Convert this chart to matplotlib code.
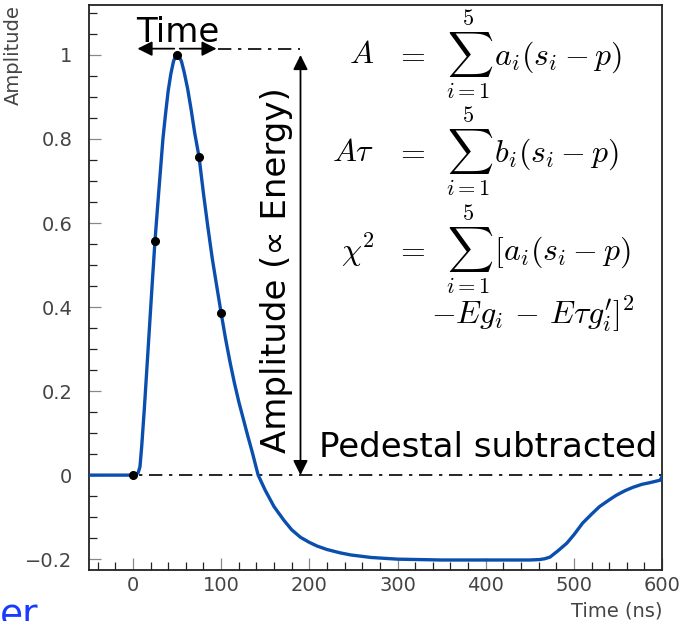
import numpy as np
import matplotlib
matplotlib.use('Agg')
import matplotlib.pyplot as plt
from matplotlib.ticker import MultipleLocator, FixedLocator, FixedFormatter

# pulse shape (time in ns, normalised amplitude)
pulse_t = [-50, 0, 4, 6, 8, 10, 13, 16, 19, 22, 25, 28, 31, 34, 37, 40, 43, 46, 49, 50,
           52, 55, 58, 62, 66, 70, 75, 80, 85, 90, 95, 100, 105, 110, 115, 120, 125,
           130, 135, 142, 150, 160, 171, 180, 190, 200, 209, 220, 235, 247, 270, 300,
           350, 400, 450, 461, 467, 473, 482, 492, 500, 510, 520, 529, 540, 548, 558,
           567, 577, 586, 598, 600]
pulse_a = [0.0, 0.0, 0.002, 0.006, 0.02, 0.07, 0.16, 0.26, 0.36, 0.46, 0.557, 0.64,
           0.72, 0.80, 0.86, 0.915, 0.955, 0.985, 1.0, 1.0,
           0.998, 0.985, 0.96, 0.92, 0.87, 0.815, 0.757, 0.67, 0.59, 0.515, 0.45, 0.386,
           0.325, 0.27, 0.22, 0.175, 0.135, 0.095, 0.057, 0.0, -0.036, -0.075, -0.107,
           -0.13, -0.148, -0.16, -0.169, -0.177, -0.185, -0.19, -0.196, -0.2,
           -0.202, -0.202, -0.202, -0.201, -0.199, -0.195, -0.18, -0.162, -0.142, -0.114,
           -0.093, -0.075, -0.059, -0.048, -0.037, -0.029, -0.022, -0.018, -0.012, -0.003]

# the five digitised samples
sample_t = [0, 25, 50, 75, 100]
sample_a = [0.0, 0.557, 1.0, 0.757, 0.386]

ytick_vals = [-0.2, 0, 0.2, 0.4, 0.6, 0.8, 1]
ytick_labels = ['\u22120.2', '0', '0.2', '0.4', '0.6', '0.8', '1']
xtick_vals = [0, 100, 200, 300, 400, 500, 600]
xtick_labels = ['0', '100', '200', '300', '400', '500', '600']

peak = 1.015
t_marker = 190

plt.rcParams['mathtext.fontset'] = 'cm'
plt.rcParams['font.family'] = 'DejaVu Sans'

fig = plt.figure(figsize=(6.94, 6.21), dpi=100)
ax = fig.add_axes([0.128, 0.082, 0.826, 0.910])

ax.plot(pulse_t, pulse_a, color='#0a4fae', lw=2.4, zorder=3)
ax.plot(sample_t, sample_a, 'o', color='black', ms=5.5, zorder=4)

# pedestal and peak reference lines
ax.plot([-50, 600], [0, 0], color='black', lw=1.2, ls=(0, (8, 4, 2, 4)), zorder=2)
ax.plot([97, t_marker], [peak, peak], color='black', lw=1.2, ls=(0, (8, 4, 2, 4)), zorder=2)

# time arrow (double headed) and amplitude arrow
ax.annotate('', xy=(2, peak), xytext=(50, peak),
            arrowprops=dict(arrowstyle='-|>', color='black', lw=1.3, mutation_scale=22))
ax.annotate('', xy=(98, peak), xytext=(50, peak),
            arrowprops=dict(arrowstyle='-|>', color='black', lw=1.3, mutation_scale=22))
ax.annotate('', xy=(t_marker, 1.0), xytext=(t_marker, 0.0),
            arrowprops=dict(arrowstyle='<|-|>', color='black', lw=1.3, mutation_scale=22,
                            shrinkA=0, shrinkB=0))

ax.text(51, 1.031, 'Time', ha='center', va='baseline', fontsize=24.5)
ax.text(210.5, 0.042, 'Pedestal subtracted', ha='left', va='baseline', fontsize=24.5)
ax.text(163, 0.488, 'Amplitude (\u221d Energy)', rotation=90, ha='center', va='center',
        fontsize=24.5)

# reconstruction formulas
eq_fs = 23
lhs_x, eq_x, rhs_x = 274, 315, 354.5
rows_y = [1.0, 0.769, 0.536]
ax.text(lhs_x, rows_y[0], r'$A$', ha='right', va='center', fontsize=eq_fs)
ax.text(lhs_x, rows_y[1], r'$A\tau$', ha='right', va='center', fontsize=eq_fs)
ax.text(lhs_x, rows_y[2], r'$\chi^2$', ha='right', va='center', fontsize=eq_fs)
for y in rows_y:
    ax.text(eq_x, y, r'$=$', ha='center', va='center', fontsize=eq_fs)
ax.text(rhs_x, rows_y[0], r'$\sum_{i=1}^{5}\,a_i(s_i-p)$', ha='left', va='center', fontsize=eq_fs)
ax.text(rhs_x, rows_y[1], r'$\sum_{i=1}^{5}\,b_i(s_i-p)$', ha='left', va='center', fontsize=eq_fs)
ax.text(rhs_x, rows_y[2], r'$\sum_{i=1}^{5}\,[a_i(s_i-p)$', ha='left', va='center', fontsize=eq_fs)
ax.text(337.5, 0.383, r"$-Eg_i\,-\,E\tau g^{\prime}_i]^2$", ha='left', va='center',
        fontsize=eq_fs)

ax.set_xlim(-50, 600)
ax.set_ylim(-0.226, 1.119)
ax.xaxis.set_major_locator(FixedLocator(xtick_vals))
ax.xaxis.set_major_formatter(FixedFormatter(xtick_labels))
ax.xaxis.set_minor_locator(MultipleLocator(20))
ax.yaxis.set_major_locator(FixedLocator(ytick_vals))
ax.yaxis.set_major_formatter(FixedFormatter(ytick_labels))
ax.yaxis.set_minor_locator(MultipleLocator(0.05))
ax.tick_params(which='both', direction='in', top=False, right=False,
               labelsize=14, width=0.9, labelcolor='#444444')
ax.tick_params(which='major', length=8.5, color='#888888')
ax.tick_params(which='minor', length=5.5, color='#222222')
ax.tick_params(axis='y', which='major', pad=12)
ax.tick_params(axis='x', which='major', pad=4)
for s in ax.spines.values():
    s.set_linewidth(1.3)
    s.set_color('#222222')

ax.set_xlabel('Time (ns)', fontsize=14, color='#444444')
ax.xaxis.set_label_coords(1.0, -0.055)
ax.xaxis.label.set_ha('right')
# ylabel uses anchor rotation: ha runs along the text, so 'right' hangs it from the top
ax.set_ylabel('Amplitude', fontsize=14, color='#444444')
ax.yaxis.set_label_coords(-0.131, 1.0)
ax.yaxis.label.set_ha('right')
ax.yaxis.label.set_va('center')

# leftover slide title fragment at the bottom edge
fig.text(0.0, -0.021, 'er', color='#1a3aff', fontsize=27, ha='left', va='bottom')

fig.savefig('out.png', dpi=100)
